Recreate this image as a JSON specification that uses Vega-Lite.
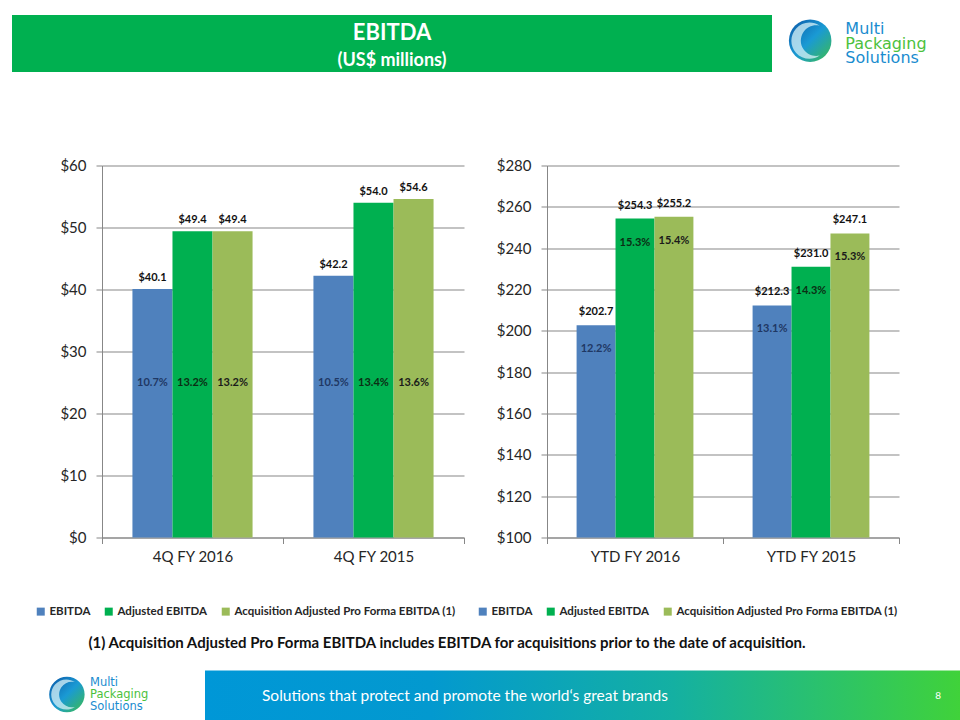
{
  "$schema": "https://vega.github.io/schema/vega-lite/v6.json",
  "background": "white",
  "padding": {"left": 12, "top": 15, "right": 0, "bottom": 0},
  "spacing": 86.5,
  "resolve": {"scale": {"color": "independent", "fill": "independent", "x": "independent", "y": "independent"}},
  "vconcat": [
    {
      "bounds": "flush",
      "spacing": 10,
      "resolve": {"scale": {"x": "independent", "y": "independent"}},
      "hconcat": [
        {
          "width": 760,
          "height": 57,
          "view": {"fill": "#00b050", "stroke": null},
          "data": {"values": [{}]},
          "layer": [
            {"mark": {"type": "text", "text": "EBITDA", "fontSize": 22, "fontWeight": "bold", "color": "white", "baseline": "middle", "dy": -10.5}, "encoding": {}},
            {"mark": {"type": "text", "text": "(US$ millions)", "fontSize": 18, "fontWeight": "bold", "color": "white", "baseline": "middle", "dy": 17.5}, "encoding": {}}
          ]
        },
        {
          "width": 176,
          "height": 57,
          "data": {"values": [{"word": "Multi", "line": 1, "tone": "blue"}, {"word": "Packaging", "line": 2, "tone": "green"}, {"word": "Solutions", "line": 3, "tone": "blue"}]},
          "layer": [
            {
              "transform": [{"filter": "datum.line == 2"}],
              "mark": {"type": "point", "shape": "circle", "filled": true, "opacity": 1, "size": 1810,
                "color": {"gradient": "linear", "x1": 0, "y1": 0, "x2": 1, "y2": 1, "stops": [{"offset": 0, "color": "#0b56a6"}, {"offset": 0.5, "color": "#1a9ad4"}, {"offset": 1, "color": "#3dbd4b"}]}},
              "encoding": {
                "x": {"datum": 0.16, "type": "quantitative", "scale": {"domain": [0, 1]}, "axis": null},
                "y": {"datum": 1.8, "type": "quantitative", "scale": {"domain": [0.579, 3.579], "reverse": true}, "axis": null}
              }
            },
            {
              "transform": [{"filter": "datum.line == 2"}],
              "mark": {"type": "point", "shape": "M 0.45 -0.7 A 0.85 0.85 0 1 0 0.45 0.7 A 0.72 0.72 0 1 1 0.45 -0.7 Z", "filled": true, "opacity": 0.75, "size": 1810, "color": "#d8f1f7"},
              "encoding": {
                "x": {"datum": 0.16, "type": "quantitative"},
                "y": {"datum": 1.8, "type": "quantitative"}
              }
            },
            {
              "transform": [{"filter": "datum.tone == 'blue'"}],
              "mark": {"type": "text", "align": "left", "baseline": "middle", "font": "DejaVu Sans", "fontSize": 16, "color": "#1a8ccf"},
              "encoding": {
                "x": {"datum": 0.36, "type": "quantitative"},
                "y": {"field": "line", "type": "quantitative"},
                "text": {"field": "word"}
              }
            },
            {
              "transform": [{"filter": "datum.tone == 'green'"}],
              "mark": {"type": "text", "align": "left", "baseline": "middle", "font": "DejaVu Sans", "fontSize": 16, "color": "#4cc13d"},
              "encoding": {
                "x": {"datum": 0.36, "type": "quantitative"},
                "y": {"field": "line", "type": "quantitative"},
                "text": {"field": "word"}
              }
            }
          ]
        }
      ]
    },
    {
      "spacing": 10,
      "resolve": {"scale": {"color": "independent", "fill": "independent", "x": "independent", "y": "independent"}},
      "vconcat": [
        {
          "bounds": "flush",
          "spacing": 83,
          "resolve": {"scale": {"color": "independent", "fill": "independent", "x": "independent", "y": "independent", "xOffset": "independent"}, "legend": {"color": "independent"}},
          "hconcat": [
            {"width": 7, "height": 10, "data": {"values": [{}]}, "mark": {"type": "text", "text": ""}, "encoding": {}},
            {
              "width": 362,
              "height": 372,
              "data": {"values": [
                {"period": "4Q FY 2016", "series": "EBITDA", "value": 40.1, "margin": 0.107},
                {"period": "4Q FY 2016", "series": "Adjusted EBITDA", "value": 49.4, "margin": 0.132},
                {"period": "4Q FY 2016", "series": "Acquisition Adjusted Pro Forma EBITDA (1)", "value": 49.4, "margin": 0.132},
                {"period": "4Q FY 2015", "series": "EBITDA", "value": 42.2, "margin": 0.105},
                {"period": "4Q FY 2015", "series": "Adjusted EBITDA", "value": 54.0, "margin": 0.134},
                {"period": "4Q FY 2015", "series": "Acquisition Adjusted Pro Forma EBITDA (1)", "value": 54.6, "margin": 0.136}
              ]},
              "encoding": {
                "x": {"field": "period", "type": "nominal", "sort": null, "title": null, "scale": {"paddingInner": 0, "paddingOuter": 0}},
                "xOffset": {"field": "series", "type": "nominal", "sort": ["EBITDA", "Adjusted EBITDA", "Acquisition Adjusted Pro Forma EBITDA (1)"], "scale": {"paddingInner": 0, "paddingOuter": 0.76}}
              },
              "layer": [
                {
                  "mark": {"type": "bar"},
                  "encoding": {
                    "y": {"field": "value", "type": "quantitative", "title": null, "scale": {"domain": [0, 60]}, "axis": {"values": [0, 10, 20, 30, 40, 50, 60], "format": "$.0f"}},
                    "color": {"field": "series", "type": "nominal", "scale": {"domain": ["EBITDA", "Adjusted EBITDA", "Acquisition Adjusted Pro Forma EBITDA (1)"], "range": ["#4f81bd", "#00b050", "#9bbb59"]},
                      "legend": {"orient": "none", "direction": "horizontal", "legendX": -67, "legendY": 440, "title": null}}
                  }
                },
                {
                  "mark": {"type": "text", "baseline": "bottom", "dy": -6, "fontSize": 11, "fontWeight": "bold", "color": "#111111"},
                  "encoding": {
                    "y": {"field": "value", "type": "quantitative"},
                    "text": {"field": "value", "type": "quantitative", "format": "$.1f"}
                  }
                },
                {
                  "mark": {"type": "text", "baseline": "middle", "fontSize": 11, "fontWeight": "bold"},
                  "encoding": {
                    "y": {"datum": 25, "type": "quantitative"},
                    "text": {"field": "margin", "type": "quantitative", "format": ".1%"},
                    "fill": {"field": "series", "type": "nominal", "scale": {"domain": ["EBITDA", "Adjusted EBITDA", "Acquisition Adjusted Pro Forma EBITDA (1)"], "range": ["#1f3864", "#0b2e14", "#1a1a1a"]}, "legend": null}
                  }
                }
              ]
            },
            {
              "width": 352,
              "height": 372,
              "data": {"values": [
                {"period": "YTD FY 2016", "series": "EBITDA", "value": 202.7, "margin": 0.122},
                {"period": "YTD FY 2016", "series": "Adjusted EBITDA", "value": 254.3, "margin": 0.153},
                {"period": "YTD FY 2016", "series": "Acquisition Adjusted Pro Forma EBITDA (1)", "value": 255.2, "margin": 0.154},
                {"period": "YTD FY 2015", "series": "EBITDA", "value": 212.3, "margin": 0.131},
                {"period": "YTD FY 2015", "series": "Adjusted EBITDA", "value": 231.0, "margin": 0.143},
                {"period": "YTD FY 2015", "series": "Acquisition Adjusted Pro Forma EBITDA (1)", "value": 247.1, "margin": 0.153}
              ]},
              "encoding": {
                "x": {"field": "period", "type": "nominal", "sort": null, "title": null, "scale": {"paddingInner": 0, "paddingOuter": 0}},
                "xOffset": {"field": "series", "type": "nominal", "sort": ["EBITDA", "Adjusted EBITDA", "Acquisition Adjusted Pro Forma EBITDA (1)"], "scale": {"paddingInner": 0, "paddingOuter": 0.76}}
              },
              "layer": [
                {
                  "mark": {"type": "bar", "clip": true},
                  "encoding": {
                    "y": {"field": "value", "type": "quantitative", "title": null, "scale": {"domain": [100, 280], "zero": false}, "axis": {"values": [100, 120, 140, 160, 180, 200, 220, 240, 260, 280], "format": "$.0f"}},
                    "color": {"field": "series", "type": "nominal", "scale": {"domain": ["EBITDA", "Adjusted EBITDA", "Acquisition Adjusted Pro Forma EBITDA (1)"], "range": ["#4f81bd", "#00b050", "#9bbb59"]},
                      "legend": {"orient": "none", "direction": "horizontal", "legendX": -70, "legendY": 440, "title": null}}
                  }
                },
                {
                  "mark": {"type": "text", "baseline": "bottom", "dy": -8, "fontSize": 11, "fontWeight": "bold", "color": "#111111"},
                  "encoding": {
                    "y": {"field": "value", "type": "quantitative"},
                    "text": {"field": "value", "type": "quantitative", "format": "$.1f"}
                  }
                },
                {
                  "mark": {"type": "text", "baseline": "middle", "dy": 24, "fontSize": 11, "fontWeight": "bold"},
                  "encoding": {
                    "y": {"field": "value", "type": "quantitative"},
                    "text": {"field": "margin", "type": "quantitative", "format": ".1%"},
                    "fill": {"field": "series", "type": "nominal", "scale": {"domain": ["EBITDA", "Adjusted EBITDA", "Acquisition Adjusted Pro Forma EBITDA (1)"], "range": ["#1f3864", "#0b2e14", "#1a1a1a"]}, "legend": null}
                  }
                }
              ]
            }
          ]
        },
        {
          "spacing": 13,
          "resolve": {"scale": {"x": "independent", "y": "independent"}},
          "vconcat": [
            {
              "width": 870,
              "height": 30,
              "data": {"values": [{}]},
              "mark": {"type": "text", "text": "(1)  Acquisition Adjusted Pro Forma EBITDA includes EBITDA for acquisitions prior to the date of acquisition.", "fontSize": 15, "fontWeight": "bold", "color": "#111111", "baseline": "middle"},
              "encoding": {}
            },
            {
              "bounds": "flush",
              "spacing": 10,
              "resolve": {"scale": {"x": "independent", "y": "independent"}},
              "hconcat": [
                {
                  "width": 183,
                  "height": 48,
                  "data": {"values": [{"word": "Multi", "line": 1, "tone": "blue"}, {"word": "Packaging", "line": 2, "tone": "green"}, {"word": "Solutions", "line": 3, "tone": "blue"}]},
                  "layer": [
                    {
                      "transform": [{"filter": "datum.line == 2"}],
                      "mark": {"type": "point", "shape": "circle", "filled": true, "opacity": 1, "size": 1257,
                        "color": {"gradient": "linear", "x1": 0, "y1": 0, "x2": 1, "y2": 1, "stops": [{"offset": 0, "color": "#0b56a6"}, {"offset": 0.5, "color": "#1a9ad4"}, {"offset": 1, "color": "#3dbd4b"}]}},
                      "encoding": {
                        "x": {"datum": 0.30, "type": "quantitative", "scale": {"domain": [0, 1]}, "axis": null},
                        "y": {"field": "line", "type": "quantitative", "scale": {"domain": [0.286, 3.714], "reverse": true}, "axis": null}
                      }
                    },
                    {
                      "transform": [{"filter": "datum.line == 2"}],
                      "mark": {"type": "point", "shape": "M 0.45 -0.7 A 0.85 0.85 0 1 0 0.45 0.7 A 0.72 0.72 0 1 1 0.45 -0.7 Z", "filled": true, "opacity": 0.75, "size": 1257, "color": "#d8f1f7"},
                      "encoding": {
                        "x": {"datum": 0.30, "type": "quantitative"},
                        "y": {"field": "line", "type": "quantitative"}
                      }
                    },
                    {
                      "transform": [{"filter": "datum.tone == 'blue'"}],
                      "mark": {"type": "text", "align": "left", "baseline": "middle", "font": "DejaVu Sans", "fontSize": 11.5, "color": "#1a8ccf"},
                      "encoding": {
                        "x": {"datum": 0.426, "type": "quantitative"},
                        "y": {"field": "line", "type": "quantitative"},
                        "text": {"field": "word"}
                      }
                    },
                    {
                      "transform": [{"filter": "datum.tone == 'green'"}],
                      "mark": {"type": "text", "align": "left", "baseline": "middle", "font": "DejaVu Sans", "fontSize": 11.5, "color": "#4cc13d"},
                      "encoding": {
                        "x": {"datum": 0.426, "type": "quantitative"},
                        "y": {"field": "line", "type": "quantitative"},
                        "text": {"field": "word"}
                      }
                    }
                  ]
                },
                {
                  "width": 755,
                  "height": 50,
                  "view": {"stroke": null, "fill": {"gradient": "linear", "x1": 0, "y1": 0, "x2": 1, "y2": 0, "stops": [{"offset": 0, "color": "#0097d7"}, {"offset": 0.3, "color": "#0399cf"}, {"offset": 0.62, "color": "#14b0a2"}, {"offset": 1, "color": "#40d23a"}]}},
                  "data": {"values": [{}]},
                  "layer": [
                    {
                      "mark": {"type": "text", "text": "Solutions that protect and promote the world‘s great brands", "align": "left", "baseline": "middle", "fontSize": 15.5, "color": "white"},
                      "encoding": {"x": {"datum": 0.0755, "type": "quantitative", "scale": {"domain": [0, 1]}, "axis": null}}
                    },
                    {
                      "mark": {"type": "text", "text": "8", "align": "center", "baseline": "middle", "fontSize": 10, "color": "white"},
                      "encoding": {"x": {"datum": 0.971, "type": "quantitative"}}
                    }
                  ]
                }
              ]
            }
          ]
        }
      ]
    }
  ],
  "config": {
    "font": "Lato",
    "view": {"stroke": null},
    "axis": {"grid": false, "domainColor": "#878787", "tickColor": "#878787", "tickSize": 6, "labelColor": "#262626", "labelFontSize": 15, "titleFontSize": 12},
    "axisX": {"tickBand": "extent", "labelAngle": 0, "labelPadding": 6, "labelFontSize": 15},
    "axisY": {"grid": true, "gridColor": "#878787", "labelPadding": 10, "labelFontSize": 15},
    "legend": {"symbolType": "square", "symbolSize": 64, "symbolStrokeWidth": 0, "labelFontSize": 11.5, "labelFontWeight": "bold", "labelColor": "#262626", "columnPadding": 12, "labelOffset": 3, "labelLimit": 400}
  }
}
